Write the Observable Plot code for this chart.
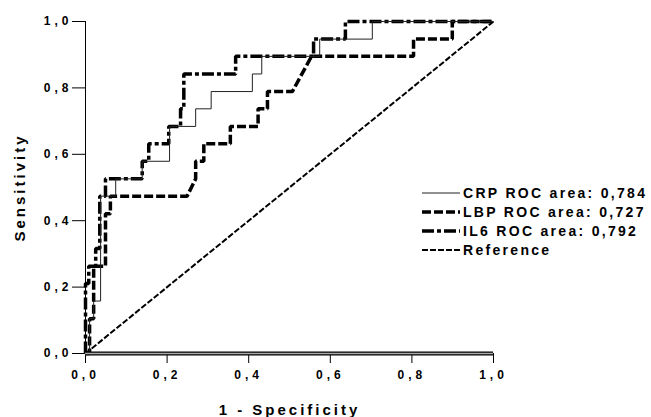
<!DOCTYPE html>
<html>
<head>
<meta charset="utf-8">
<script src="https://cdn.jsdelivr.net/npm/d3@7"></script>
<script src="https://cdn.jsdelivr.net/npm/@observablehq/plot@0.6"></script>
<style>
  body { margin: 0; background: #fff; }
  #wrap { position: relative; width: 651px; height: 417px; font-family: "Liberation Sans", Arial, sans-serif; }
  #wrap g[aria-label="x-axis tick label"] text,
  #wrap g[aria-label="y-axis tick label"] text { letter-spacing: 4px; }
  #wrap g[aria-label="x-axis label"] text,
  #wrap g[aria-label="y-axis label"] text { letter-spacing: 3px; }
  #legend { position: absolute; left: 422px; top: 183px; font: bold 14px "Liberation Sans", Arial, sans-serif; letter-spacing: 2.3px; color: #000; }
  #legend .row { display: flex; align-items: center; height: 19px; white-space: nowrap; }
  #legend .row svg { margin-right: 3px; flex: none; }
</style>
</head>
<body>
<div id="wrap"></div>
<script>
// ROC curves (x = 1 - specificity, y = sensitivity)
const crpX = [0, 0.01, 0.01, 0.02, 0.02, 0.037, 0.037, 0.074, 0.074, 0.139, 0.139, 0.206, 0.206, 0.27, 0.27, 0.308, 0.308, 0.409, 0.409, 0.432, 0.432, 0.574, 0.574, 0.703, 0.703, 1];
const crpY = [0, 0, 0.105, 0.105, 0.158, 0.158, 0.474, 0.474, 0.526, 0.526, 0.579, 0.579, 0.684, 0.684, 0.737, 0.737, 0.789, 0.789, 0.842, 0.842, 0.895, 0.895, 0.947, 0.947, 1, 1];

const lbpX = [0, 0.01, 0.01, 0.02, 0.02, 0.049, 0.049, 0.061, 0.061, 0.249, 0.27, 0.27, 0.29, 0.29, 0.355, 0.355, 0.423, 0.423, 0.446, 0.446, 0.507, 0.554, 0.804, 0.804, 0.899, 0.899, 1];
const lbpY = [0, 0, 0.105, 0.105, 0.263, 0.263, 0.421, 0.421, 0.474, 0.474, 0.526, 0.579, 0.579, 0.632, 0.632, 0.684, 0.684, 0.737, 0.737, 0.789, 0.789, 0.895, 0.895, 0.947, 0.947, 1, 1];

const il6X = [0, 0, 0.008, 0.008, 0.025, 0.025, 0.035, 0.035, 0.049, 0.049, 0.139, 0.139, 0.155, 0.155, 0.204, 0.204, 0.233, 0.233, 0.241, 0.241, 0.368, 0.368, 0.559, 0.559, 0.637, 0.637, 1];
const il6Y = [0, 0.211, 0.211, 0.263, 0.263, 0.316, 0.316, 0.474, 0.474, 0.526, 0.526, 0.579, 0.579, 0.632, 0.632, 0.684, 0.684, 0.737, 0.737, 0.842, 0.842, 0.895, 0.895, 0.947, 0.947, 1, 1];

const refX = [0, 1];
const refY = [0, 1];

const axisTicks = [0, 0.2, 0.4, 0.6, 0.8, 1.0];
const legendLabels = ["CRP ROC area: 0,784", "LBP ROC area: 0,727", "IL6 ROC area: 0,792", "Reference"];

const rows = (xs, ys) => xs.map((x, i) => ({x, y: ys[i]}));
const fmt = d => d.toFixed(1).replace(".", ",");

const lineOpts = {x: "x", y: "y", stroke: "black", strokeLinecap: "butt", strokeLinejoin: "miter"};

const chart = Plot.plot({
  width: 651,
  height: 417,
  marginLeft: 85,
  marginRight: 158,
  marginTop: 21,
  marginBottom: 64,
  style: {fontFamily: "Liberation Sans, Arial, sans-serif", background: "white", color: "black"},
  x: {domain: [0, 1]},
  y: {domain: [0, 1]},
  marks: [
    Plot.axisY({ticks: axisTicks, tickFormat: fmt, tickSize: 13, tickPadding: 0, fontSize: 12, fontWeight: "bold", label: null}),
    Plot.axisY({ticks: [], label: "Sensitivity", labelAnchor: "center", labelArrow: "none", labelOffset: 71, fontSize: 15, fontWeight: "bold"}),
    Plot.axisX({ticks: axisTicks, tickFormat: fmt, tickSize: 10, tickPadding: 7, fontSize: 12, fontWeight: "bold", label: null}),
    Plot.axisX({ticks: [], label: "1 - Specificity", labelAnchor: "center", labelArrow: "none", labelOffset: 61, fontSize: 15, fontWeight: "bold"}),
    Plot.ruleX([0], {stroke: "black", strokeWidth: 1}),
    Plot.line(rows(refX, refY), {...lineOpts, strokeWidth: 2, strokeDasharray: "6,2"}),
    Plot.line(rows(lbpX, lbpY), {...lineOpts, strokeWidth: 3.5, strokeDasharray: "9,3"}),
    Plot.line(rows(il6X, il6Y), {...lineOpts, strokeWidth: 3.5, strokeDasharray: "12,3,4,3"}),
    Plot.line(rows(crpX, crpY), {...lineOpts, stroke: "#222", strokeWidth: 1}),
    Plot.ruleY([0], {stroke: "black", strokeWidth: 4}),
    Plot.ruleY([0], {stroke: "#aaa", strokeWidth: 1.5})
  ]
});

const wrap = document.getElementById("wrap");
wrap.appendChild(chart);

// legend
const styles = [
  {w: 1, dash: null, color: "#222"},
  {w: 3.5, dash: "9,3", color: "black"},
  {w: 3.5, dash: "12,3,4,3", color: "black"},
  {w: 2, dash: "6,2", color: "black"}
];
const legend = document.createElement("div");
legend.id = "legend";
legendLabels.forEach((lab, i) => {
  const row = document.createElement("div");
  row.className = "row";
  const ns = "http://www.w3.org/2000/svg";
  const s = document.createElementNS(ns, "svg");
  s.setAttribute("width", 38);
  s.setAttribute("height", 10);
  const l = document.createElementNS(ns, "line");
  l.setAttribute("x1", 0); l.setAttribute("x2", 38);
  l.setAttribute("y1", 5); l.setAttribute("y2", 5);
  l.setAttribute("stroke", styles[i].color);
  l.setAttribute("stroke-width", styles[i].w);
  if (styles[i].dash) l.setAttribute("stroke-dasharray", styles[i].dash);
  s.appendChild(l);
  const t = document.createElement("span");
  t.textContent = lab;
  row.appendChild(s);
  row.appendChild(t);
  legend.appendChild(row);
});
wrap.appendChild(legend);
</script>
</body>
</html>
